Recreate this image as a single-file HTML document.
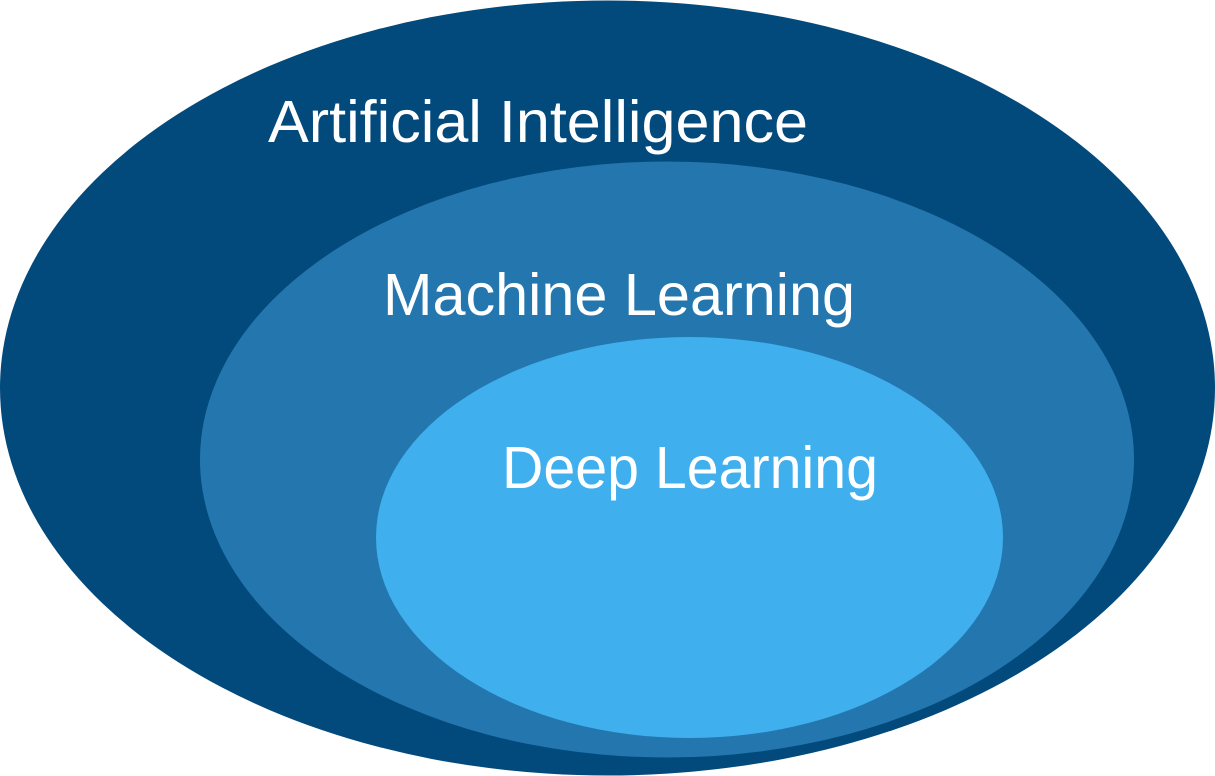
<!DOCTYPE html>
<html><head><meta charset="utf-8"><style>
html,body{margin:0;padding:0;background:#fff;}
svg{display:block;}
text{font-family:"Liberation Sans",Arial,sans-serif;fill:#fff;font-size:59px;}
</style></head><body>
<svg width="1215" height="776" viewBox="0 0 1215 776" xmlns="http://www.w3.org/2000/svg">
<ellipse cx="607.5" cy="388" rx="607.5" ry="387.5" fill="#02497C"/>
<ellipse cx="667" cy="459.5" rx="467" ry="298" fill="#2376AE"/>
<ellipse cx="689.5" cy="537.5" rx="313.5" ry="200.5" fill="#3FAFEE"/>
<text x="268" y="142" textLength="540" lengthAdjust="spacingAndGlyphs">Artificial Intelligence</text>
<text x="383" y="315" textLength="472" lengthAdjust="spacingAndGlyphs">Machine Learning</text>
<text x="502" y="488" textLength="376" lengthAdjust="spacingAndGlyphs">Deep Learning</text>
</svg>
</body></html>
